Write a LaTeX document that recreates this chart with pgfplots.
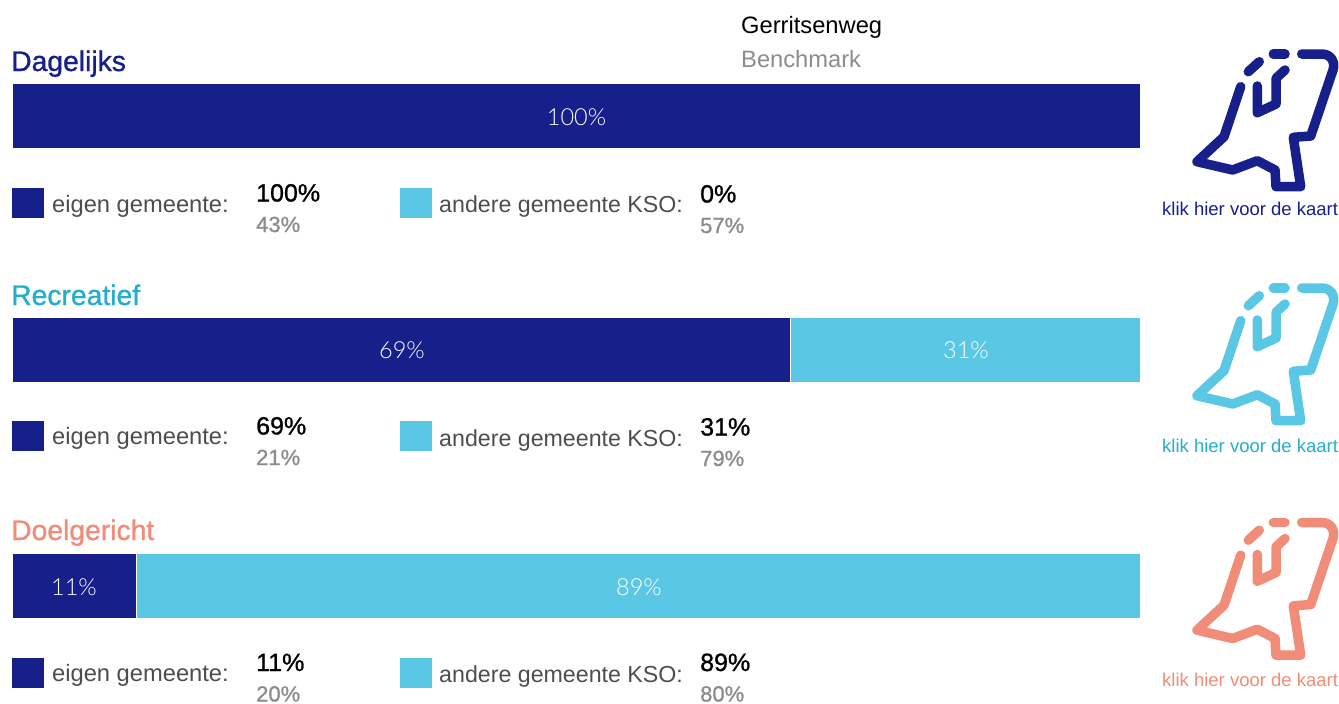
\documentclass[border=0pt]{standalone}
\usepackage{pgfplots}
\pgfplotsset{compat=1.18}
\usepackage{fontspec}
\setmainfont{Liberation Sans}
\newfontfamily\med[FakeBold=1.0]{Liberation Sans}
\newfontfamily\thin{Lato Light}
\definecolor{navy}{HTML}{171F8B}
\definecolor{cyanbar}{HTML}{5AC8E4}
\definecolor{cyantxt}{HTML}{25AECB}
\definecolor{salmon}{HTML}{F08C78}
\definecolor{gtxt}{HTML}{4D4D4D}
\definecolor{gval}{HTML}{8C8C8C}
\newcommand{\T}[5]{\node[anchor=base west,inner sep=0pt,text=#3,font=\fontsize{#4}{#4}\selectfont] at (#1,#2) {#5};}
\newcommand{\mapicon}[2]{%
\begin{scope}[shift={(0,#2)},draw=#1,line width=9.5pt,line cap=round,line join=round]
\draw (1301.7,54) -- (1321.7,54) .. controls (1331,54) and (1335.5,62) .. (1333,70) -- (1310.7,136) -- (1293.3,137.3) -- (1300.7,186.7) -- (1276,186.7) -- (1275,170) -- (1257.3,160.7) -- (1232.7,170) -- (1197,161.7) -- (1224,136.7) -- (1240.7,86.7);
\draw (1257.3,86) -- (1257.3,112.7) -- (1276,104) -- (1276,78.3) -- (1285,70);
\draw (1248.3,71.7) -- (1259.3,61.7);
\draw (1273.3,54) -- (1285,54);
\end{scope}}
\newcommand{\stackbar}[3]{%
\begin{axis}[at={(13pt,-#1pt)},anchor=north west,scale only axis,width=1127pt,height=65pt,
 hide axis,xmin=0,xmax=100,ymin=-0.5,ymax=0.5,xbar stacked,bar width=65pt,clip=false]
\addplot[fill=navy,draw=white,line width=1pt] coordinates {(#2,0)};
\addplot[fill=cyanbar,draw=white,line width=1pt] coordinates {(#3,0)};
\end{axis}}
\newcommand{\lab}[3]{\node[text=white,font=\thin\fontsize{23.5}{23.5}\selectfont] at (#1,#2) {#3};}
\newcommand{\rowtext}[9]{%
\fill[navy] (12,#1) rectangle (43.5,#1+30);
\fill[cyanbar] (400,#1) rectangle (431.5,#1+30);
\T{52}{#2}{gtxt}{23.7}{eigen gemeente:}
\T{439}{#3}{gtxt}{23.2}{andere gemeente KSO:}
\T{256}{#4}{black}{25}{\med #6}
\T{256}{#4+30.5}{gval}{22}{\med #7}
\T{700}{#5}{black}{25}{\med #8}
\T{700}{#5+30.5}{gval}{22}{\med #9}}
\begin{document}
\begin{tikzpicture}[x=1pt,y=-1pt]
\useasboundingbox (0,0) rectangle (1339,704);
\stackbar{83.5}{100}{0}
\stackbar{317.5}{69}{31}
\stackbar{553.5}{11}{89}
\lab{576.5}{117}{100\%}
\lab{402}{350}{69\%}
\lab{966}{350}{31\%}
\lab{74}{587}{11\%}
\lab{639}{587}{89\%}
\T{741}{34}{black}{23.7}{Gerritsenweg}
\T{741}{67.5}{gval}{23.7}{Benchmark}
\T{11}{71}{navy}{28.3}{\med Dagelijks}
\T{11}{305}{cyantxt}{28.3}{\med Recreatief}
\T{11}{540}{salmon}{28.3}{\med Doelgericht}
\rowtext{188}{212.5}{212.5}{201.5}{202.5}{100\%}{43\%}{0\%}{57\%}
\rowtext{421}{444.5}{446.5}{434.5}{435.5}{69\%}{21\%}{31\%}{79\%}
\rowtext{658}{681.5}{682.5}{671}{671}{11\%}{20\%}{89\%}{80\%}
\mapicon{navy}{0}
\mapicon{cyanbar}{234}
\mapicon{salmon}{468.5}
\T{1162}{215}{navy}{18.5}{klik hier voor de kaart}
\T{1162}{452}{cyantxt}{18.5}{klik hier voor de kaart}
\T{1162}{686.5}{salmon}{18.5}{klik hier voor de kaart}
\end{tikzpicture}
\end{document}
